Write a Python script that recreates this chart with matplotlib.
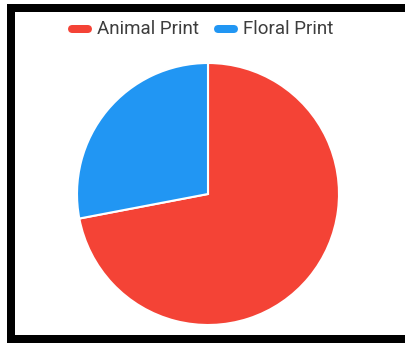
import matplotlib
matplotlib.use("Agg")
import matplotlib.pyplot as plt
from matplotlib.patches import Rectangle, FancyBboxPatch

categories = ["Animal Print", "Floral Print"]
values = [72, 28]
colors = ["#F44336", "#2196F3"]

W, H = 406, 345
DPI = 100
fig = plt.figure(figsize=(W / DPI, H / DPI), dpi=DPI)
fig.patch.set_facecolor("white")

# pie axes: centre (208, 194) from top-left, radius 131 px
cx, cy, r = 208, 194, 131
ax = fig.add_axes([(cx - r) / W, (H - cy - r) / H, 2 * r / W, 2 * r / H])
ax.pie(values, colors=colors, startangle=90, counterclock=False, radius=1,
       wedgeprops=dict(edgecolor="white", linewidth=1.5))
ax.set_xlim(-1, 1)
ax.set_ylim(-1, 1)
ax.set_aspect("auto")
ax.axis("off")

# frame bands (pixel coordinates, origin top-left)
def band(x0, y0, x1, y1, color="black"):
    fig.patches.append(Rectangle((x0 / W, 1 - y1 / H), (x1 - x0) / W, (y1 - y0) / H,
                                 transform=fig.transFigure, facecolor=color,
                                 edgecolor="none", zorder=10))

band(7, 4, W, 12)
band(7, 4, 15, 343)
band(7, 335, W, 343)

# legend
legend_y = 29
items = [(68, 97), (214, 243)]
for (mx, tx), name, col in zip(items, categories, colors):
    fig.patches.append(FancyBboxPatch((mx / W, 1 - (legend_y + 4) / H), 24 / W, 8 / H,
                                      boxstyle="round,pad=0,rounding_size=0.011",
                                      transform=fig.transFigure, facecolor=col,
                                      edgecolor="none", mutation_aspect=W / H))
    fig.text(tx / W, 1 - legend_y / H, name, fontsize=13.5, family=["Roboto", "DejaVu Sans"],
             color="#3d3d3d", va="center", ha="left")

fig.savefig("out.png", dpi=DPI)
